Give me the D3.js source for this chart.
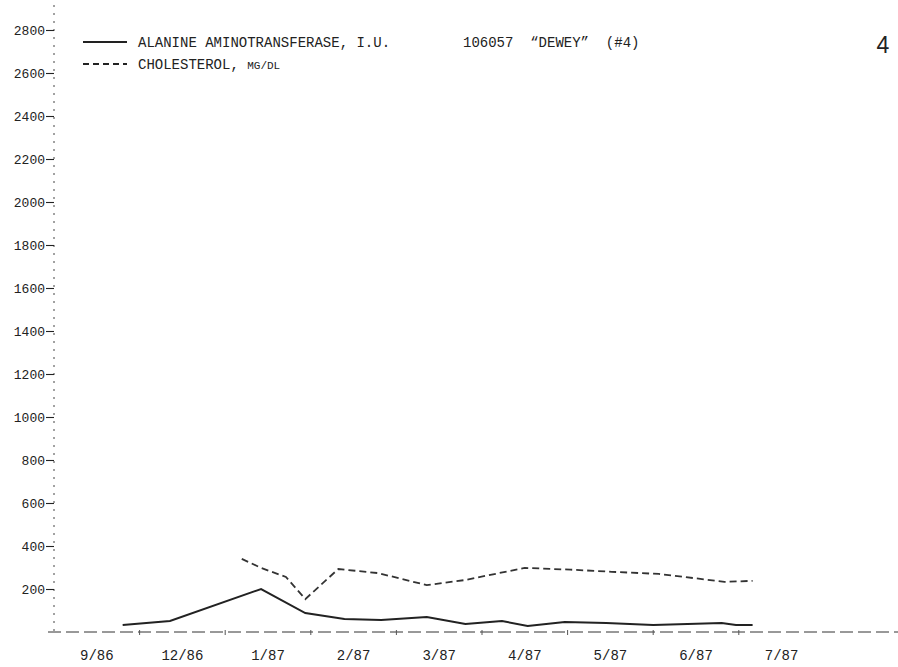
<!DOCTYPE html>
<html>
<head>
<meta charset="utf-8">
<script src="https://cdn.jsdelivr.net/npm/d3@7"></script>
<style>
  body { margin: 0; background: #fff; }
  svg text { fill: #222; }
</style>
</head>
<body>
<div id="chart"></div>
<script>
// month labels on the x axis and where each label's band starts
const monthLabels = ["9/86", "12/86", "1/87", "2/87", "3/87", "4/87", "5/87", "6/87", "7/87"]
const bandStarts = ["1986-09-01", "1986-12-01", "1987-01-01", "1987-02-01", "1987-03-01",
                    "1987-04-01", "1987-05-01", "1987-06-01", "1987-07-01", "1987-08-01"]
const yTicks = [200, 400, 600, 800, 1000, 1200, 1400, 1600, 1800, 2000, 2200, 2400, 2600, 2800]

// alanine aminotransferase, I.U.
const altDates = ["1986-11-13", "1986-12-12", "1987-01-14", "1987-01-30", "1987-02-12", "1987-02-24",
                  "1987-03-12", "1987-03-26", "1987-04-08", "1987-04-17", "1987-04-30", "1987-05-15",
                  "1987-06-01", "1987-06-25", "1987-06-30", "1987-07-06"]
const altValues = [33, 51, 200, 88, 60, 56, 70, 37, 51, 28, 47, 42, 33, 42, 33, 33]

// cholesterol, mg/dl
const cholDates = ["1987-01-07", "1987-01-14", "1987-01-23", "1987-01-30", "1987-02-10", "1987-02-23",
                   "1987-03-12", "1987-03-26", "1987-04-07", "1987-04-16", "1987-05-02", "1987-05-17",
                   "1987-06-03", "1987-06-12", "1987-06-26", "1987-07-06"]
const cholValues = [340, 298, 256, 153, 293, 274, 218, 242, 274, 298, 290, 280, 270, 256, 233, 238]

const W = 898, H = 667
const parse = d3.timeParse("%Y-%m-%d")
const ink = "#222"
const mono = "'Liberation Mono', 'DejaVu Sans Mono', monospace"

const svg = d3.select("#chart").append("svg")
    .attr("width", W).attr("height", H)
    .style("background-color", "white")

// each month label sits in an equal band, so the time scale is piecewise
const bandW = 85.6, x0 = 54
const x = d3.scaleTime()
    .domain(bandStarts.map(parse))
    .range(bandStarts.map((d, i) => x0 + i * bandW))
const y = d3.scaleLinear().domain([0, 2800]).range([632, 30])

// y axis: dotted spine with short ticks
svg.append("line")
    .attr("x1", x0).attr("x2", x0).attr("y1", 5).attr("y2", y(0))
    .attr("stroke", "#444").attr("stroke-width", 1)
    .attr("stroke-dasharray", "2,6")
const yAxis = svg.append("g")
    .attr("transform", `translate(${x0},0)`)
    .call(d3.axisLeft(y).tickValues(yTicks).tickSize(8).tickPadding(1).tickFormat(d3.format("d")))
yAxis.select(".domain").remove()
yAxis.selectAll(".tick line").attr("stroke", ink).attr("stroke-width", 1.1)
yAxis.selectAll("text")
    .style("font-family", mono).style("font-size", "13px")
    .attr("fill", ink)

// x axis: long dashed base line and band ticks
svg.append("line")
    .attr("x1", 48).attr("x2", W).attr("y1", y(0)).attr("y2", y(0))
    .attr("stroke", "#333").attr("stroke-width", 1)
    .attr("stroke-dasharray", "13,5")
svg.selectAll(".btick")
    .data(bandStarts.slice(1, 9))
    .enter().append("line")
    .attr("x1", d => x(parse(d))).attr("x2", d => x(parse(d)))
    .attr("y1", y(0) - 2).attr("y2", y(0) + 3)
    .attr("stroke", "#555").attr("stroke-width", 1)
svg.selectAll(".mlabel")
    .data(monthLabels)
    .enter().append("text")
    .attr("x", (d, i) => (x(parse(bandStarts[i])) + x(parse(bandStarts[i + 1]))) / 2)
    .attr("y", 660)
    .attr("text-anchor", "middle")
    .style("font-family", mono).style("font-size", "14px")
    .text(d => d)

// series lines
const line = d3.line().x(d => x(d.date)).y(d => y(d.v))
const altData = altDates.map((d, i) => ({date: parse(d), v: altValues[i]}))
const cholData = cholDates.map((d, i) => ({date: parse(d), v: cholValues[i]}))

svg.append("path").datum(cholData)
    .attr("d", line).attr("fill", "none")
    .attr("stroke", "#333").attr("stroke-width", 1.8)
    .attr("stroke-dasharray", "7,4")
svg.append("path").datum(altData)
    .attr("d", line).attr("fill", "none")
    .attr("stroke", ink).attr("stroke-width", 2)

// legend
const legend = [
    {label: "ALANINE AMINOTRANSFERASE, I.U.", dash: null, y: 42},
    {label: "CHOLESTEROL, ", small: "MG/DL", dash: "6,4", y: 64}
]
legend.forEach(l => {
    svg.append("line")
        .attr("x1", 83).attr("x2", 127).attr("y1", l.y).attr("y2", l.y)
        .attr("stroke", ink).attr("stroke-width", 1.8)
        .attr("stroke-dasharray", l.dash)
    const t = svg.append("text")
        .attr("x", 138).attr("y", l.y + 5)
        .style("font-family", mono).style("font-size", "14px")
        .style("white-space", "pre")
    t.append("tspan").text(l.label)
    if (l.small) t.append("tspan").style("font-size", "11px").text(l.small)
})

svg.append("text")
    .attr("x", 463).attr("y", 47)
    .style("font-family", mono).style("font-size", "14px")
    .style("white-space", "pre")
    .text("106057  \u201CDEWEY\u201D  (#4)")

svg.append("text")
    .attr("x", 883).attr("y", 53)
    .attr("text-anchor", "middle")
    .style("font-family", "'Liberation Sans', Arial, sans-serif").style("font-size", "23px")
    .text("4")
</script>
</body>
</html>
